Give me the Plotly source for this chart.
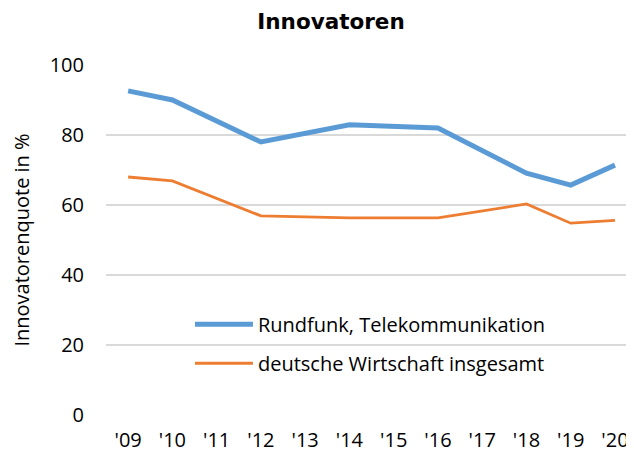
import plotly.graph_objects as go

years = ["'09", "'10", "'11", "'12", "'13", "'14", "'15", "'16", "'17", "'18", "'19", "'20"]
rundfunk = [92.6, 90.0, None, 78.0, None, 82.9, None, 82.0, None, 69.1, 65.7, 71.4]
wirtschaft = [68.0, 66.9, None, 56.9, None, 56.3, None, 56.3, None, 60.3, 54.8, 55.6]

font_main = "Open Sans, sans-serif"

fig = go.Figure()
fig.add_trace(go.Scatter(x=years, y=rundfunk, mode="lines", name="Rundfunk, Telekommunikation",
                         line=dict(color="#5B9BD5", width=5), connectgaps=True, legendgroup="a"))
fig.add_trace(go.Scatter(x=years, y=wirtschaft, mode="lines", name="deutsche Wirtschaft insgesamt",
                         line=dict(color="#ED7D31", width=2.8), connectgaps=True, legendgroup="b"))

fig.update_layout(
    width=626, height=448,
    margin=dict(l=98, r=0, t=57, b=41, pad=0),
    paper_bgcolor="white", plot_bgcolor="white",
    title=dict(text="<b>Innovatoren</b>", x=0.516, xanchor="center", y=0.97, yanchor="middle",
               font=dict(family="DejaVu Sans, Verdana, sans-serif", size=21.5, color="black")),
    font=dict(family=font_main, size=20, color="black"),
    xaxis=dict(type="category", categoryorder="array", categoryarray=years,
               showgrid=False, showline=False, zeroline=False, ticks="",
               tickfont=dict(size=20), range=[-0.5, 11.43], ticklabelstandoff=11),
    yaxis=dict(range=[0, 100], dtick=20, showgrid=True, gridcolor="#D9D9D9", gridwidth=2,
               zeroline=False, showline=False, ticks="", ticklabelstandoff=21,
               tickfont=dict(size=20),
               title=dict(text="Innovatorenquote in %", font=dict(size=20), standoff=20)),
    legend=dict(x=0.159, y=0.315, xanchor="left", yanchor="top", bgcolor="rgba(0,0,0,0)",
                font=dict(size=20), tracegroupgap=10, itemwidth=58),
    showlegend=True,
)
fig.write_html("out.html")
